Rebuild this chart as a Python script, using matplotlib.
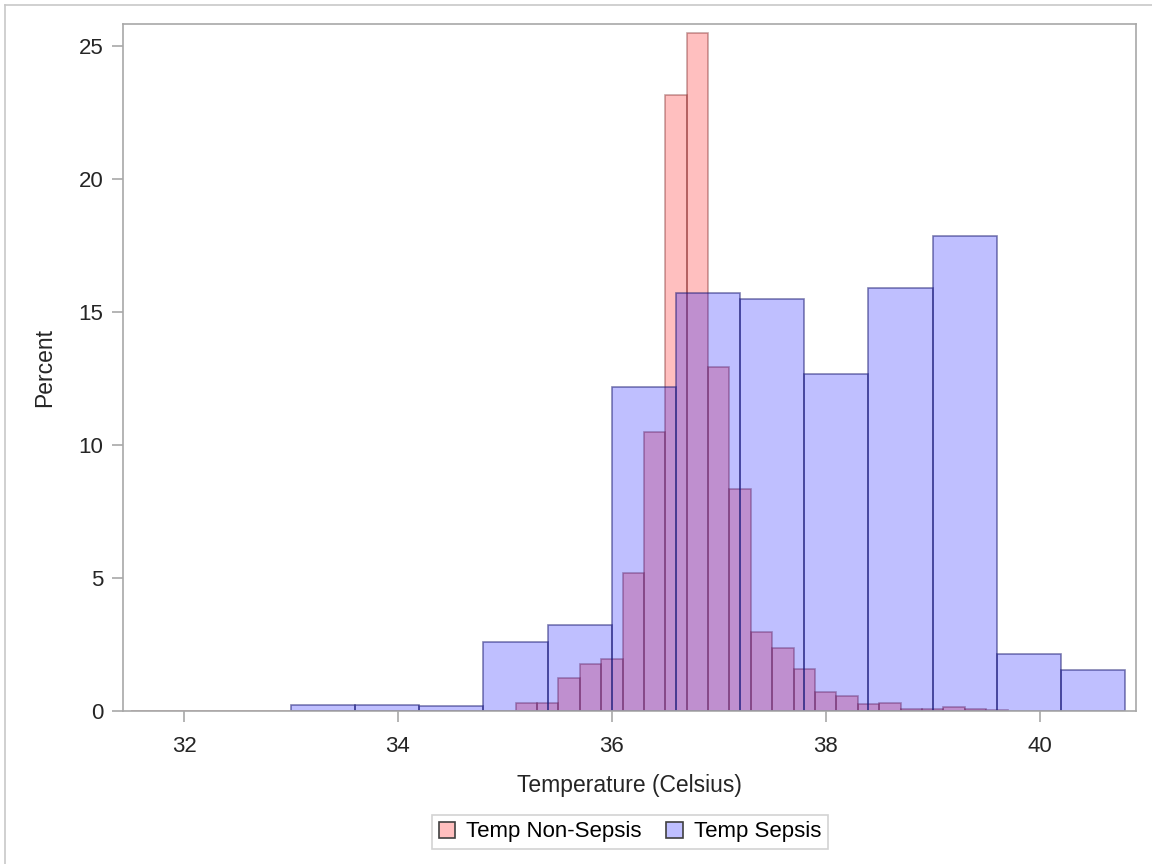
import matplotlib
matplotlib.use("Agg")
import matplotlib.pyplot as plt
import numpy as np
from matplotlib.patches import Patch

plt.rcParams['font.family'] = ['Liberation Sans', 'DejaVu Sans']

# Non-sepsis histogram: bin width 0.2, left edges starting at 31.5
nonsepsis_start = 31.5
nonsepsis_width = 0.2
nonsepsis_pct = [0, 0, 0, 0, 0, 0, 0, 0, 0, 0, 0, 0, 0, 0, 0, 0, 0, 0,
                 0.29, 0.29, 1.23, 1.78, 1.97, 5.18, 10.5, 23.16, 25.5, 12.93,
                 8.35, 2.98, 2.36, 1.57, 0.70, 0.55, 0.26, 0.30, 0.08, 0.08,
                 0.15, 0.08, 0.03]

# Sepsis histogram: bin width 0.6, left edges starting at 33.0
sepsis_start = 33.0
sepsis_width = 0.6
sepsis_pct = [0.22, 0.22, 0.18, 2.59, 3.23, 12.2, 15.7, 15.5, 12.67, 15.9,
              17.86, 2.14, 1.54]

x_ticks = [32, 34, 36, 38, 40]
y_ticks = [0, 5, 10, 15, 20, 25]

fig = plt.figure(figsize=(11.52, 8.64), dpi=100)
ax = fig.add_axes([0.1068, 0.1771, 0.8792, 0.7951])

ns_left = nonsepsis_start + nonsepsis_width * np.arange(len(nonsepsis_pct))
s_left = sepsis_start + sepsis_width * np.arange(len(sepsis_pct))

ax.bar(ns_left, nonsepsis_pct, width=nonsepsis_width, align='edge',
       facecolor=(1, 0, 0, 0.25), edgecolor=(0.45, 0.1, 0.1, 0.4), linewidth=1.2,
       label='Temp Non-Sepsis')
ax.bar(s_left, sepsis_pct, width=sepsis_width, align='edge',
       facecolor=(0, 0, 1, 0.25), edgecolor=(0.1, 0.1, 0.45, 0.55), linewidth=1.2,
       label='Temp Sepsis')

ax.set_xlim(31.43, 40.90)
ax.set_ylim(0, 25.83)
ax.set_xticks(x_ticks)
ax.set_xticklabels([str(t) for t in x_ticks])
ax.set_yticks(y_ticks)
ax.set_yticklabels([str(t) for t in y_ticks])

frame_col = '#A8A8A8'
for sp in ax.spines.values():
    sp.set_color(frame_col)
    sp.set_linewidth(1.2)
ax.tick_params(axis='both', direction='out', length=8, width=1.2, color=frame_col,
               labelsize=16, labelcolor='#252525', pad=6)
ax.tick_params(axis='x', pad=10)

ax.set_xlabel('Temperature (Celsius)', fontsize=16.5, color='#252525', labelpad=12)
ax.set_ylabel('Percent', fontsize=16.5, color='#252525', labelpad=16)

handles = [Patch(facecolor='#FFBFBF', edgecolor='#404040', linewidth=1.2),
           Patch(facecolor='#BFBFFF', edgecolor='#404040', linewidth=1.2)]
leg = fig.legend(handles, ['Temp Non-Sepsis', 'Temp Sepsis'], loc='center',
                 bbox_to_anchor=(630 / 1152, 1 - 832 / 864), ncol=2,
                 fontsize=16, frameon=True, fancybox=False, handlelength=0.75,
                 handleheight=0.75, handletextpad=0.5, columnspacing=1.1,
                 borderpad=0.3)
leg.get_frame().set_edgecolor('#C8C8C8')
leg.get_frame().set_linewidth(1.2)

# outer image border (left and top)
fig.add_artist(plt.Line2D([5 / 1152, 5 / 1152], [0, 1 - 5 / 864], transform=fig.transFigure,
                          color='#C8C8C8', linewidth=1.2))
fig.add_artist(plt.Line2D([5 / 1152, 1], [1 - 5 / 864, 1 - 5 / 864], transform=fig.transFigure,
                          color='#C8C8C8', linewidth=1.2))

fig.savefig('out.png', dpi=100)
